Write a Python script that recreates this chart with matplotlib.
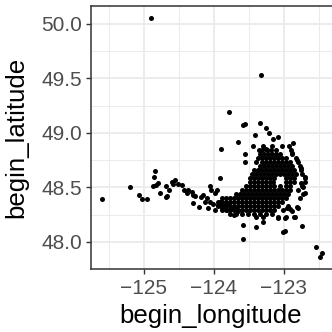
import matplotlib
matplotlib.use('Agg')
import matplotlib.pyplot as plt

# scattered points (lon, lat)
spread_lon = [-124.90, -123.33, -123.79, -123.58, -123.56, -123.34, -123.26,
              -123.21, -123.41, -123.09, -123.15, -123.65, -123.90, -122.89,
              -122.87, -122.82, -122.75, -122.70, -123.25]
spread_lat = [50.055, 49.53, 49.19, 49.07, 49.08, 49.09, 49.05,
              49.00, 48.98, 48.96, 48.94, 48.92, 48.85, 48.82,
              48.91, 48.75, 48.68, 48.60, 48.85]

coast_lon = [-125.60, -125.20, -125.07, -125.03, -124.95, -124.84, -124.85,
             -124.83, -124.87, -124.80, -124.77, -124.69, -124.67, -124.64,
             -124.60, -124.58, -124.56, -124.51, -124.46, -124.43, -124.39,
             -124.37, -124.32, -124.30, -124.27, -124.30, -124.22, -124.18,
             -124.15, -124.13, -124.10, -124.08, -124.06, -124.05, -124.04,
             -123.99, -123.96, -123.92, -124.01, -123.99, -123.94, -123.91,
             -123.89, -123.84, -123.82, -123.80, -123.75, -123.72, -123.68,
             -123.65, -124.69]
coast_lat = [48.39, 48.50, 48.43, 48.39, 48.39, 48.65, 48.60,
             48.52, 48.51, 48.54, 48.45, 48.51, 48.42, 48.48,
             48.55, 48.53, 48.57, 48.53, 48.52, 48.48, 48.45,
             48.48, 48.46, 48.43, 48.42, 48.36, 48.32, 48.41,
             48.43, 48.37, 48.40, 48.31, 48.37, 48.51, 48.48,
             48.45, 48.48, 48.59, 48.35, 48.29, 48.34, 48.37,
             48.31, 48.34, 48.29, 48.35, 48.31, 48.25, 48.32,
             48.28, 48.41]

south_lon = [-123.58, -123.59, -123.40, -123.30, -123.08, -122.98, -122.98,
             -122.85, -122.74, -122.92, -122.80, -122.54, -122.46, -122.49,
             -122.96, -122.82, -122.89, -122.70, -122.75, -122.73, -123.01]
south_lat = [48.16, 48.03, 48.14, 48.18, 48.22, 48.22, 48.10,
             48.23, 48.15, 48.30, 48.31, 47.95, 47.90, 47.86,
             48.31, 48.32, 48.28, 48.45, 48.54, 48.50, 48.09]

# dense cluster, one latitude per row
core_lat = [48.88, 48.84, 48.81, 48.77, 48.73, 48.70, 48.66, 48.62, 48.59,
            48.55, 48.51, 48.48, 48.44, 48.40, 48.37, 48.33, 48.29, 48.26,
            48.23]
core_lon = [
    [-123.44, -123.30, -123.17, -123.03, -122.93],
    [-123.36, -123.31, -123.24, -123.19, -123.11, -122.90],
    [-123.56, -123.34, -123.29, -123.23, -123.17, -123.11, -123.06, -122.89],
    [-123.37, -123.31, -123.26, -123.20, -123.14, -123.09, -123.03, -122.97,
     -122.83],
    [-123.56, -123.40, -123.31, -123.26, -123.20, -123.14, -123.09, -123.03,
     -122.97, -122.91, -122.80],
    [-123.34, -123.29, -123.23, -123.17, -123.11, -123.06, -123.00, -122.94,
     -122.89, -122.77],
    [-123.43, -123.37, -123.31, -123.26, -123.20, -123.14, -123.09, -123.03,
     -122.97, -122.91, -122.86, -122.76],
    [-123.46, -123.40, -123.34, -123.29, -123.23, -123.17, -123.11, -123.06,
     -123.00, -122.94, -122.89, -122.83, -122.74],
    [-123.49, -123.43, -123.37, -123.31, -123.26, -123.20, -123.14, -122.97,
     -122.91, -122.86, -122.70],
    [-123.49, -123.43, -123.37, -123.31, -123.26, -123.20, -123.16, -122.97,
     -122.91, -122.86, -122.70],
    [-123.54, -123.49, -123.43, -123.37, -123.31, -123.26, -123.20, -123.14,
     -123.06, -122.97, -122.91, -122.74],
    [-123.60, -123.54, -123.49, -123.43, -123.37, -123.31, -123.26, -123.20,
     -123.14, -123.09, -123.03, -122.97, -122.91, -122.80],
    [-123.69, -123.63, -123.57, -123.51, -123.46, -123.40, -123.34, -123.29,
     -123.23, -123.17, -123.11, -123.06, -123.00, -122.94, -122.73],
    [-123.89, -123.83, -123.77, -123.71, -123.66, -123.60, -123.54, -123.49,
     -123.43, -123.37, -123.31, -123.26, -123.20, -123.14, -123.09, -123.03,
     -122.97, -122.77],
    [-123.94, -123.89, -123.83, -123.77, -123.71, -123.66, -123.60, -123.54,
     -123.49, -123.43, -123.37, -123.31, -123.26, -123.20, -123.14, -123.09,
     -123.03],
    [-123.94, -123.89, -123.83, -123.77, -123.71, -123.66, -123.60, -123.54,
     -123.49, -123.43, -123.37, -123.31, -123.26, -123.20, -123.14, -123.09,
     -122.94],
    [-123.89, -123.83, -123.77, -123.71, -123.66, -123.60, -123.54, -123.49,
     -123.43, -123.37, -123.31, -123.26, -123.20, -123.14, -123.01],
    [-123.77, -123.69, -123.60, -123.51, -123.43, -123.34, -123.26, -123.17],
    [-123.40, -123.30, -123.09, -122.97, -122.84],
]

x_ticks = [-125, -124, -123]
y_ticks = [48.0, 48.5, 49.0, 49.5, 50.0]
x_minor = [-125.5, -124.5, -123.5, -122.5]
y_minor = [47.75, 48.25, 48.75, 49.25, 49.75]

plt.rcParams['font.family'] = ['Liberation Sans', 'DejaVu Sans']

fig = plt.figure(figsize=(3.32, 3.32), dpi=100)
ax = fig.add_axes([0.2741, 0.1898, 0.7289, 0.7922])

lon = list(spread_lon) + list(coast_lon) + list(south_lon)
lat = list(spread_lat) + list(coast_lat) + list(south_lat)
for la, row in zip(core_lat, core_lon):
    for lo in row:
        lon.append(lo)
        lat.append(la)

ax.scatter(lon, lat, s=13, c='black', linewidths=0, zorder=3)

ax.set_xlim(-125.757, -122.30)
ax.set_ylim(47.752, 50.165)

for v in x_minor:
    ax.axvline(v, color='#EBEBEB', lw=0.7, zorder=0)
for v in y_minor:
    ax.axhline(v, color='#EBEBEB', lw=0.7, zorder=0)
for v in x_ticks:
    ax.axvline(v, color='#EBEBEB', lw=1.3, zorder=1)
for v in y_ticks:
    ax.axhline(v, color='#EBEBEB', lw=1.3, zorder=1)

ax.set_xticks(x_ticks)
ax.set_xticklabels(['\u2212125', '\u2212124', '\u2212123'])
ax.set_yticks(y_ticks)
ax.set_yticklabels(['%.1f' % v for v in y_ticks])
ax.tick_params(axis='both', length=3.6, width=1.0, color='#333333',
               labelcolor='#4D4D4D', labelsize=15)
ax.tick_params(axis='x', pad=3.5)
ax.tick_params(axis='y', pad=2.5)

for sp in ax.spines.values():
    sp.set_color('#333333')
    sp.set_linewidth(1.1)

ax.set_xlabel('begin_longitude', fontsize=18.6, color='black')
ax.set_ylabel('begin_latitude', fontsize=18.6, color='black')
ax.xaxis.set_label_coords(0.496, -0.135)
ax.yaxis.set_label_coords(-0.26, 0.5)

fig.savefig('out.png', dpi=100)
